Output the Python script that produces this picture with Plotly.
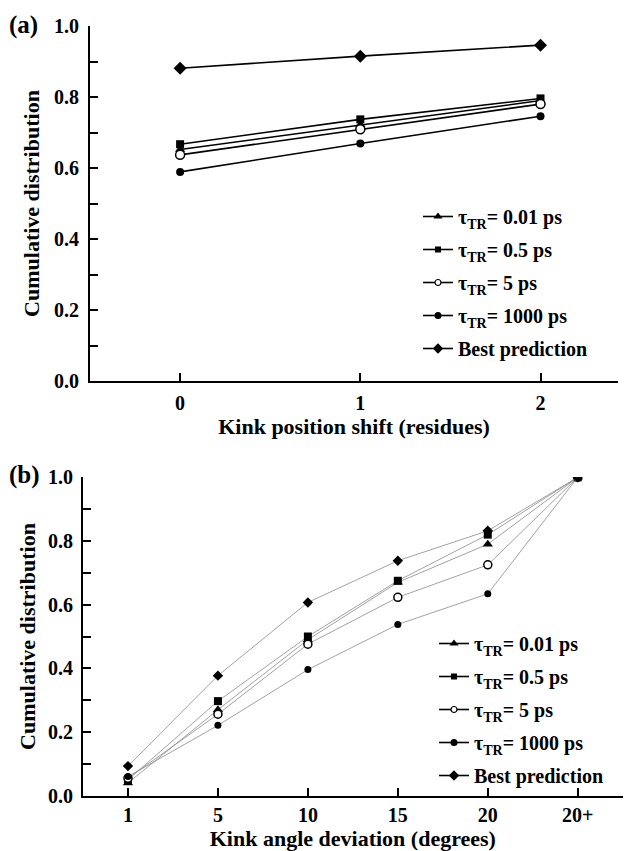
import plotly.graph_objects as go

W, H = 627, 851
FONT = "Liberation Serif"

# ---- data: panel (a)
shift_x = [0, 1, 2]
a_t001 = [0.652, 0.722, 0.790]
a_t05 = [0.667, 0.737, 0.796]
a_t5 = [0.637, 0.709, 0.780]
a_t1000 = [0.589, 0.669, 0.746]
a_best = [0.881, 0.915, 0.946]

# ---- data: panel (b)
angle_cats = ["1", "5", "10", "15", "20", "20+"]
b_t001 = [0.040, 0.270, 0.490, 0.670, 0.790, 1.0]
b_t05 = [0.050, 0.297, 0.500, 0.675, 0.820, 1.0]
b_t5 = [0.055, 0.256, 0.476, 0.623, 0.725, 1.0]
b_t1000 = [0.060, 0.221, 0.396, 0.538, 0.634, 1.0]
b_best = [0.093, 0.377, 0.607, 0.738, 0.832, 1.0]

names = ["τ<sub>TR</sub>= 0.01 ps", "τ<sub>TR</sub>= 0.5 ps", "τ<sub>TR</sub>= 5 ps",
         "τ<sub>TR</sub>= 1000 ps", "Best prediction"]
symbols = ["triangle-up", "square", "circle", "circle", "diamond"]
fills = ["black", "black", "white", "black", "black"]
sizes_a = [9, 8, 9, 8, 10]
sizes_b = [9, 8, 8, 7, 8]
sizes_leg = [8, 6, 6, 7, 8]

fig = go.Figure()
for i, ys in enumerate([a_t001, a_t05, a_t5, a_t1000, a_best]):
    fig.add_trace(go.Scatter(
        x=shift_x, y=ys, mode="lines+markers", showlegend=False,
        line=dict(color="black", width=1.6),
        marker=dict(symbol=symbols[i], size=sizes_a[i], color=fills[i],
                    line=dict(color="black", width=1.5 if fills[i] == "white" else 0)),
        xaxis="x", yaxis="y"))
for i, ys in enumerate([b_t001, b_t05, b_t5, b_t1000, b_best]):
    fig.add_trace(go.Scatter(
        x=angle_cats, y=ys, mode="lines+markers", showlegend=False,
        line=dict(color="#8a8a8a", width=0.8),
        marker=dict(symbol=symbols[i], size=sizes_b[i], color=fills[i],
                    line=dict(color="black", width=1.5 if fills[i] == "white" else 0)),
        xaxis="x2", yaxis="y2"))

# legend entries (same series styles, legend-sized markers)
for leg, xa, ya in [("legend", "x", "y"), ("legend2", "x2", "y2")]:
    for i in range(5):
        fig.add_trace(go.Scatter(
            x=[None], y=[None], mode="lines+markers", name="<b>%s</b>" % names[i],
            line=dict(color="black", width=1.6),
            marker=dict(symbol=symbols[i], size=sizes_leg[i], color=fills[i],
                        line=dict(color="black", width=1.2 if fills[i] == "white" else 0)),
            xaxis=xa, yaxis=ya, legend=leg, legendgroup="%s%d" % (leg, i)))

yvals = [round(0.1 * k, 1) for k in range(11)]
ytext = ["%.1f" % v if k % 2 == 0 else "" for k, v in enumerate(yvals)]

axcommon = dict(showline=True, linecolor="black", linewidth=2, ticks="inside",
                tickcolor="black", tickwidth=2, ticklen=8, showgrid=False, zeroline=False,
                tickfont=dict(family=FONT, size=20, color="black"))

def tb(s):
    return "<b>%s</b>" % s if s else ""

legfont = dict(family=FONT, size=20, color="black")

fig.update_layout(
    width=W, height=H, margin=dict(l=0, r=0, t=0, b=0, autoexpand=False),
    paper_bgcolor="white", plot_bgcolor="white",
    font=dict(family=FONT, color="black"),
    xaxis=dict(domain=[90 / W, 618 / W], anchor="y", range=[-0.5, 2.43],
               tickvals=shift_x, ticktext=[tb(str(v)) for v in shift_x],
               ticklabelstandoff=3,
               title=dict(text=tb("Kink position shift (residues)"),
                          font=dict(family=FONT, size=22), standoff=4), **axcommon),
    yaxis=dict(domain=[1 - 381 / H, 1 - 26 / H], anchor="x", range=[0, 1],
               tickvals=yvals, ticktext=[tb(t) for t in ytext], ticklabelstandoff=5,
               title=dict(text=tb("Cumulative distribution"),
                          font=dict(family=FONT, size=22), standoff=8), **axcommon),
    xaxis2=dict(domain=[83 / W, 622.7 / W], anchor="y2", type="category",
                categoryorder="array", categoryarray=angle_cats, range=[-0.5, 5.5],
                tickvals=angle_cats, ticktext=[tb(c) for c in angle_cats],
                ticklabelstandoff=0,
                title=dict(text=tb("Kink angle deviation (degrees)"),
                           font=dict(family=FONT, size=22), standoff=4), **axcommon),
    yaxis2=dict(domain=[1 - 795.7 / H, 1 - 477.3 / H], anchor="x2", range=[0, 1],
                tickvals=yvals, ticktext=[tb(t) for t in ytext], ticklabelstandoff=4,
                title=dict(text=tb("Cumulative distribution"),
                           font=dict(family=FONT, size=22), standoff=6), **axcommon),
    legend=dict(x=418 / W, y=1 - 197 / H, xanchor="left", yanchor="top",
                bgcolor="rgba(0,0,0,0)", borderwidth=0, tracegroupgap=4,
                itemwidth=30, font=legfont, traceorder="grouped"),
    legend2=dict(x=434 / W, y=1 - 624 / H, xanchor="left", yanchor="top",
                 bgcolor="rgba(0,0,0,0)", borderwidth=0, tracegroupgap=4,
                 itemwidth=30, font=legfont, traceorder="grouped"),
    annotations=[
        dict(text="<b>(a)</b>", x=7 / W, y=1 - 25 / H, xref="paper", yref="paper",
             xanchor="left", yanchor="middle", showarrow=False,
             font=dict(family=FONT, size=25, color="black")),
        dict(text="<b>(b)</b>", x=7 / W, y=1 - 475 / H, xref="paper", yref="paper",
             xanchor="left", yanchor="middle", showarrow=False,
             font=dict(family=FONT, size=25, color="black")),
    ],
)

fig.write_html("out.html")
